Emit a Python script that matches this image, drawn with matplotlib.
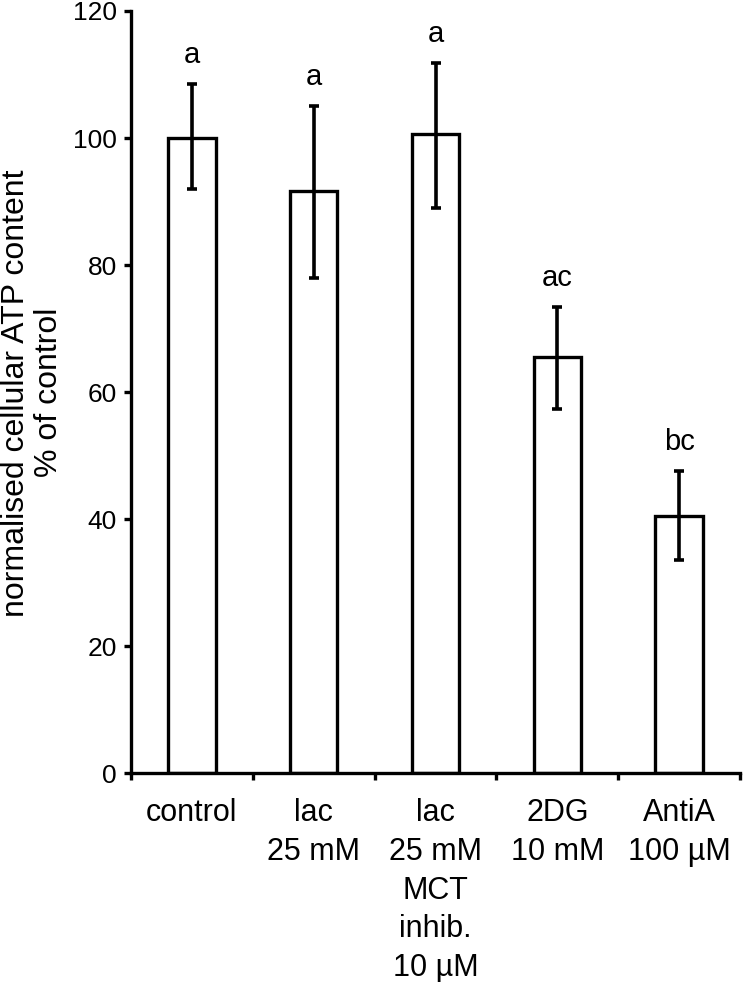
import matplotlib.pyplot as plt
import numpy as np

plt.rcParams['font.family'] = ['Liberation Sans', 'DejaVu Sans']

categories = ['control', 'lac\n25 mM', 'lac\n25 mM\nMCT\ninhib.\n10 µM', '2DG\n10 mM', 'AntiA\n100 µM']
values = [100.0, 91.7, 100.6, 65.5, 40.5]
err_low = [8.0, 13.7, 11.6, 8.2, 7.0]
err_high = [8.5, 13.3, 11.2, 7.9, 7.1]
letters = ['a', 'a', 'a', 'ac', 'bc']

fig = plt.figure(figsize=(7.43, 9.82), dpi=100)
ax = fig.add_axes([0.1763, 0.2128, 0.8197, 0.776])

x = np.arange(len(categories))
ax.bar(x, values, width=0.39, color='white', edgecolor='black', linewidth=2.4, zorder=2)
ax.errorbar(x, values, yerr=[err_low, err_high], fmt='none', ecolor='black',
            elinewidth=2.6, capsize=3.5, capthick=2.6, zorder=3)

for xi, v, eh, lab in zip(x, values, err_high, letters):
    ax.annotate(lab, (xi, v + eh), xytext=(0, 21), textcoords='offset points',
                ha='center', va='center', fontsize=21)

ax.set_xlim(-0.5, 4.5)
ax.set_ylim(0, 120)
ax.set_yticks(np.arange(0, 121, 20))
ax.tick_params(axis='y', direction='out', length=5, width=2.4, labelsize=19, pad=5)
ax.set_xticks(x)
ax.set_xticklabels(categories, fontsize=22, linespacing=1.38)
ax.set_xticks(np.arange(-0.5, 4.6, 1.0), minor=True)
ax.tick_params(axis='x', which='major', length=0, pad=18)
ax.tick_params(axis='x', which='minor', direction='out', length=5, width=2.4)

for side in ['top', 'right']:
    ax.spines[side].set_visible(False)
for side in ['left', 'bottom']:
    ax.spines[side].set_linewidth(2.4)

# y label placed by hand so it stays inside the canvas
fig.text(0.044, 0.60, 'normalised cellular ATP content\n% of control', rotation=90,
         ha='center', va='center', multialignment='center', fontsize=23, linespacing=1.12)

fig.savefig('out.png', dpi=100)
